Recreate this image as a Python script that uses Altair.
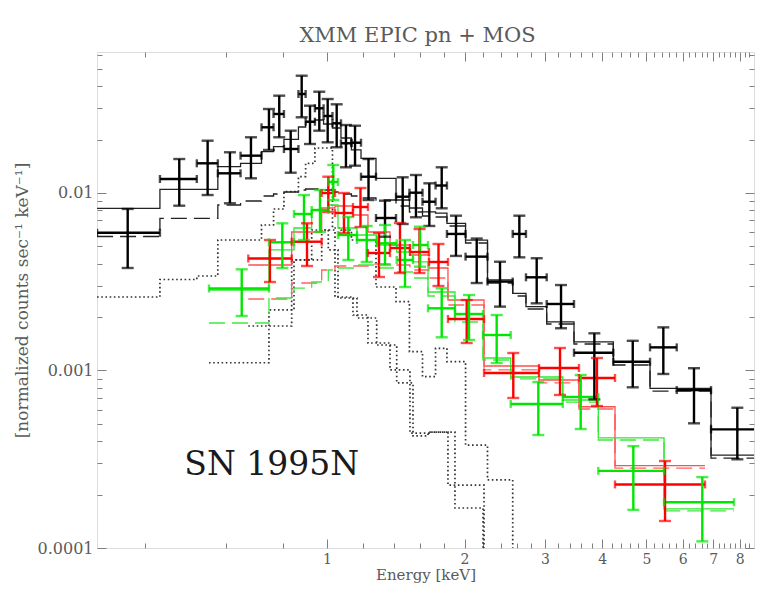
import altair as alt
import pandas as pd

# ---------------- data ----------------
# EPIC pn (black): bin edges [keV], centres, counts/s/keV with error limits
pn_edges = [0.314, 0.431, 0.519, 0.577, 0.647, 0.719, 0.764, 0.805, 0.866, 0.898, 0.941,
            0.983, 1.028, 1.073, 1.131, 1.187, 1.280, 1.416, 1.515, 1.618, 1.728, 1.830,
            2.010, 2.245, 2.549, 2.725, 3.025, 3.471, 4.232, 5.091, 5.824, 6.923, 8.906]
pn_e = [0.3664, 0.4751, 0.5481, 0.6133, 0.6818, 0.7465, 0.7862, 0.8329, 0.8803, 0.9180,
        0.9620, 1.0035, 1.0501, 1.1003, 1.1517, 1.2327, 1.3395, 1.4643, 1.5655, 1.6746,
        1.7824, 1.9153, 2.1262, 2.3910, 2.6355, 2.8763, 3.2514, 3.8459, 4.6666, 5.4438,
        6.3534, 7.9031]
pn_y = [0.00597, 0.01199, 0.01470, 0.01291, 0.01623, 0.02345, 0.02787, 0.01770, 0.03612,
        0.02522, 0.03001, 0.02715, 0.02470, 0.01906, 0.01920, 0.01235, 0.00723, 0.00953,
        0.01004, 0.00893, 0.01102, 0.00588, 0.00438, 0.00317, 0.00588, 0.00335, 0.00237,
        0.00126, 0.00112, 0.00135, 0.000776, 0.000466]
pn_yhi = [0.00813, 0.01554, 0.01971, 0.01696, 0.02060, 0.02973, 0.03534, 0.02244, 0.04579,
          0.03103, 0.03721, 0.03385, 0.03160, 0.02416, 0.02394, 0.01554, 0.00905, 0.01226,
          0.01263, 0.01134, 0.01396, 0.00745, 0.00554, 0.00410, 0.00745, 0.00429, 0.00303,
          0.00162, 0.00147, 0.00175, 0.00103, 0.000617]
pn_ylo = [0.00378, 0.00848, 0.00974, 0.00875, 0.01210, 0.01748, 0.02060, 0.01301, 0.02670,
          0.01888, 0.02244, 0.01930, 0.01810, 0.01396, 0.01425, 0.00913, 0.00567, 0.00669,
          0.00730, 0.00652, 0.00820, 0.00442, 0.00311, 0.00229, 0.00434, 0.00239, 0.00173,
          0.000688, 0.000804, 0.000956, 0.000504, 0.000316]
pn_model = [0.00820, 0.01049, 0.01049, 0.01407, 0.01470, 0.01709, 0.01823, 0.02006, 0.02354,
            0.02512, 0.02578, 0.02447, 0.02323, 0.02041, 0.01748, 0.01568, 0.01210, 0.00913,
            0.00823, 0.00782, 0.00771, 0.00675, 0.00543, 0.00324, 0.00272, 0.00229, 0.00188,
            0.00145, 0.00111, 0.000794, 0.000794, 0.000334]
pn_dash = [0.005688, 0.007202, 0.007202, 0.008558, 0.009013, 0.009618, 0.009871, 0.010130,
           0.010397, 0.010532, 0.010532, 0.010397, 0.010130, 0.009871, 0.009618, 0.009372,
           0.009133, 0.008448, 0.007816, 0.007421, 0.007325, 0.006518, 0.005227, 0.003112,
           0.002629, 0.002221, 0.001828, 0.001410, 0.001074, 0.000766, 0.000766, 0.000321]
pn_dot = [0.002595, 0.003256, 0.003407, 0.005435, 0.005435, 0.006603, 0.008127, 0.010170,
          0.012354, 0.014698, 0.017925, 0.017925, 0.006351, 0.006188, 0.005435, 0.005435,
          0.002954, 0.002442, 0.001276, 0.000923, 0.001334, 0.001121, 0.000380, 0.000242]

# MOS1 (red)
m1_edges = [0.6727, 0.8371, 0.9737, 1.0411, 1.1399, 1.2294, 1.3736, 1.5189, 1.6718, 1.8395,
            2.2061, 2.9100, 3.5591, 4.2675, 6.7157]
m1_e = [0.7502, 0.9042, 1.0066, 1.0894, 1.1838, 1.2996, 1.4445, 1.5940, 1.7538, 2.0216,
        2.5563, 3.2350, 3.8967, 5.4906]
m1_y = [0.004276, 0.005316, 0.01000, 0.007716, 0.008338, 0.004592, 0.004898, 0.004652,
        0.004087, 0.001950, 0.000968, 0.001033, 0.000907, 0.000228]
m1_yhi = [0.005435, 0.006750, 0.012354, 0.01000, 0.010670, 0.005952, 0.006776, 0.006269,
          0.005161, 0.002495, 0.001255, 0.001339, 0.001176, 0.000309]
m1_ylo = [0.003152, 0.003879, 0.007816, 0.005952, 0.006434, 0.003363, 0.003542, 0.003542,
          0.002993, 0.001429, 0.000700, 0.000728, 0.000631, 0.000142]
m1_model = [0.003929, 0.006030, 0.008232, 0.008448, 0.007519, 0.006030, 0.005093, 0.004474,
            0.003780, 0.002495, 0.001060, 0.000884, 0.000625, 0.000291]
m1_dash = [0.002528, 0.003112, 0.003683, 0.003879, 0.003879, 0.003981, 0.003929, 0.003683,
           0.003320, 0.002339, 0.001007, 0.000851, 0.000607, 0.000282]
m1_dot = [0.001781, 0.004195, 0.006188, 0.002595, 0.002054, 0.001429, 0.001007, 0.000444,
          0.000450, 0.000226]

# MOS2 (green)
m2_edges = [0.5518, 0.7465, 0.8468, 0.9258, 1.0066, 1.0570, 1.1631, 1.2845, 1.4209, 1.5424,
            1.6634, 1.9055, 2.1953, 2.5235, 3.2800, 3.9228, 5.4630, 7.7735]
m2_e = [0.6508, 0.7985, 0.8906, 0.9654, 1.0323, 1.1134, 1.2215, 1.3395, 1.4813, 1.5980,
        1.7824, 2.0451, 2.3511, 2.9001, 3.5904, 4.6806, 6.6253]
m2_y = [0.002897, 0.005275, 0.007616, 0.008021, 0.011535, 0.005799, 0.005435, 0.005206,
        0.004195, 0.005093, 0.002241, 0.002081, 0.001585, 0.000648, 0.000709, 0.000272,
        0.000181]
m2_yhi = [0.003716, 0.006750, 0.009743, 0.010397, 0.014380, 0.007325, 0.006518, 0.006603,
          0.005435, 0.006458, 0.002905, 0.002663, 0.002054, 0.000861, 0.000943, 0.000375,
          0.000251]
m2_ylo = [0.002028, 0.003780, 0.005435, 0.006030, 0.009133, 0.004195, 0.004087, 0.003929,
          0.002954, 0.003844, 0.001538, 0.001486, 0.001102, 0.000433, 0.000468, 0.000164,
          0.000109]
m2_model = [0.002841, 0.004776, 0.006351, 0.008021, 0.008558, 0.006351, 0.005799, 0.005093,
            0.004652, 0.004087, 0.002769, 0.001950, 0.001176, 0.000919, 0.000682, 0.000417,
            0.000166]
m2_dash = [0.001852, 0.002562, 0.002915, 0.003152, 0.003683, 0.003780, 0.003929, 0.003780,
           0.003588, 0.003320, 0.002629, 0.001876, 0.001146, 0.000896, 0.000664, 0.000406,
           0.000162]
m2_dot = [0.001106, 0.002193, 0.004195, 0.006188, 0.004776, 0.002562, 0.001976, 0.001392,
          0.000851, 0.000428, 0.000450, 0.000168]

x_major = [1, 2, 3, 4, 5, 6, 7, 8]
x_ticks = [round(0.2 * k, 1) for k in range(2, 43)]
y_major = [0.0001, 0.001, 0.01]
y_ticks = [round(k * d, 6) for d in (1e-4, 1e-3) for k in range(1, 10)] + \
          [round(k * 1e-2, 6) for k in range(1, 7)]

label_text = "SN 1995N"
label_pos = (0.757, 0.000258)

# ---------------- styling ----------------
FONT = "DejaVu Serif"
GREY = "#5a5a5a"
TICK_GREY = "#808080"
BLACK, RED, GREEN = "#000000", "#ff0000", "#00e600"
W, H = 657, 496

xsc = alt.Scale(type="log", domain=[0.3139, 8.596], nice=False, zero=False)
ysc = alt.Scale(type="log", domain=[0.0001, 0.06228], nice=False, zero=False)


def steps(edges, vals, name, color, drop=False):
    n = len(vals)
    ys = list(vals) + ([1e-6] if drop else [vals[-1]])
    return pd.DataFrame({"x": edges[:n + 1], "y": ys, "s": name, "c": color,
                         "i": list(range(n + 1))})


def errs(edges, e, y, ylo, yhi, color):
    return pd.DataFrame({"e": e, "lo": edges[:-1], "hi": edges[1:], "y": y,
                         "ylo": ylo, "yhi": yhi, "c": color})


def X(f):
    return alt.X(f, scale=xsc, axis=None)


def Y(f):
    return alt.Y(f, scale=ysc, axis=None)


col = alt.Color("c:N", scale=None, legend=None)

dot_df = pd.concat([steps(pn_edges, pn_dot, "pnA", BLACK, True),
                    steps(m1_edges, m1_dot, "m1B", BLACK, True),
                    steps(m2_edges, m2_dot, "m2C", BLACK, True)])
dash_df = pd.concat([steps(pn_edges, pn_dash, "pn", "#222222"),
                     steps(m1_edges, m1_dash, "m1", "#ff6060"),
                     steps(m2_edges, m2_dash, "m2", "#40e840")])
model_df = pd.concat([steps(pn_edges, pn_model, "pn", "#222222"),
                      steps(m1_edges, m1_model, "m1", "#ff5050"),
                      steps(m2_edges, m2_model, "m2", "#30e830")])
err_df = pd.concat([errs(pn_edges, pn_e, pn_y, pn_ylo, pn_yhi, BLACK),
                    errs(m1_edges, m1_e, m1_y, m1_ylo, m1_yhi, RED),
                    errs(m2_edges, m2_e, m2_y, m2_ylo, m2_yhi, GREEN)])

dotted = alt.Chart(dot_df).mark_line(interpolate="step-after", clip=True, strokeWidth=1.7,
                                     strokeDash=[1.6, 2.6], color="#333333").encode(
    x=X("x:Q"), y=Y("y:Q"), detail="s:N", order="i:Q")
dashed = alt.Chart(dash_df).mark_line(interpolate="step-after", clip=True, strokeWidth=1.3,
                                      strokeDash=[16, 7]).encode(
    x=X("x:Q"), y=Y("y:Q"), detail="s:N", order="i:Q", color=col)
model = alt.Chart(model_df).mark_line(interpolate="step-after", clip=True,
                                      strokeWidth=1.3).encode(
    x=X("x:Q"), y=Y("y:Q"), detail="s:N", order="i:Q", color=col)

eb = alt.Chart(err_df)
SW = 2.4
hbar = eb.mark_rule(strokeWidth=SW, clip=True).encode(x=X("lo:Q"), x2="hi:Q", y=Y("y:Q"), color=col)
vbar = eb.mark_rule(strokeWidth=SW, clip=True).encode(x=X("e:Q"), y=Y("ylo:Q"), y2="yhi:Q", color=col)
cap_lo = eb.mark_tick(orient="horizontal", size=12, thickness=SW, clip=True).encode(
    x=X("e:Q"), y=Y("ylo:Q"), color=col)
cap_hi = eb.mark_tick(orient="horizontal", size=12, thickness=SW, clip=True).encode(
    x=X("e:Q"), y=Y("yhi:Q"), color=col)
cap_l = eb.mark_tick(orient="vertical", size=8, thickness=SW, clip=True).encode(
    x=X("lo:Q"), y=Y("y:Q"), color=col)
cap_r = eb.mark_tick(orient="vertical", size=8, thickness=SW, clip=True).encode(
    x=X("hi:Q"), y=Y("y:Q"), color=col)
dots = eb.mark_circle(size=9, opacity=1).encode(x=X("e:Q"), y=Y("y:Q"), color=col)

txt = alt.Chart(pd.DataFrame({"x": [label_pos[0]], "y": [label_pos[1]], "t": [label_text]})).mark_text(
    font=FONT, fontSize=33, align="center", baseline="alphabetic", color="#1a1a1a").encode(
    x=X("x:Q"), y=Y("y:Q"), text="t:N")

# ---------------- axes (labels + inward ticks on all four sides) ----------------
ax_df = pd.DataFrame({"x": [1.0], "y": [0.001]})

ymaj = "abs(log(datum.value)/LN10 - round(log(datum.value)/LN10)) < 0.01"
xmaj = "abs(datum.value - round(datum.value)) < 0.01 && datum.value >= 1"


def axis_layer(xaxis, yaxis):
    return alt.Chart(ax_df).mark_point(opacity=0).encode(
        x=alt.X("x:Q", scale=xsc, axis=xaxis), y=alt.Y("y:Q", scale=ysc, axis=yaxis))


x_lab = alt.Axis(orient="bottom", values=x_major, format="~g", ticks=False, domain=False,
                 grid=False, labelFont=FONT, labelFontSize=14, labelColor=GREY,
                 labelPadding=4, labelFlush=False, labelOverlap=False,
                 title="Energy [keV]", titleFont=FONT, titleFontSize=15,
                 titleFontWeight="normal", titleColor=GREY,
                 titleBaseline="alphabetic", titleY=31)
y_lab = alt.Axis(orient="left", values=y_major, format="~g", ticks=False, domain=False,
                 grid=False, labelFont=FONT, labelFontSize=16, labelColor=GREY,
                 labelPadding=4, labelFlush=False, labelOverlap=False,
                 title="[normalized counts sec⁻¹ keV⁻¹]", titleFont=FONT, titleFontSize=17,
                 titleFontWeight="normal", titleColor=GREY, titlePadding=6)


def tick_axis(orient, values, offset, test):
    return alt.Axis(orient=orient, values=values, offset=offset, labels=False, domain=False,
                    grid=False, title=None, tickColor=TICK_GREY, tickWidth=1,
                    tickSize={"condition": {"test": test, "value": 9}, "value": 5})


axes = [
    axis_layer(x_lab, None),
    axis_layer(None, y_lab),
    axis_layer(tick_axis("top", x_ticks, -H, xmaj), None),
    axis_layer(tick_axis("bottom", x_ticks, -H, xmaj), None),
    axis_layer(None, tick_axis("right", y_ticks, -W, ymaj)),
    axis_layer(None, tick_axis("left", y_ticks, -W, ymaj)),
]

chart = alt.layer(
    dotted, dashed, model, hbar, vbar, cap_lo, cap_hi, cap_l, cap_r, dots, txt, *axes
).resolve_axis(x="independent", y="independent").properties(
    width=W, height=H,
    title=alt.Title("XMM EPIC pn + MOS", font=FONT, fontSize=21, fontWeight="normal",
                    color=GREY, offset=6, frame="group", anchor="middle", dx=-8),
    autosize=alt.AutoSizeParams(type="none"),
    padding={"left": 89, "top": 44, "right": 1, "bottom": 36},
).configure_view(stroke=TICK_GREY, strokeWidth=1).configure(background="white")

chart.save("out.html", embed_options={"renderer": "svg", "actions": False})
